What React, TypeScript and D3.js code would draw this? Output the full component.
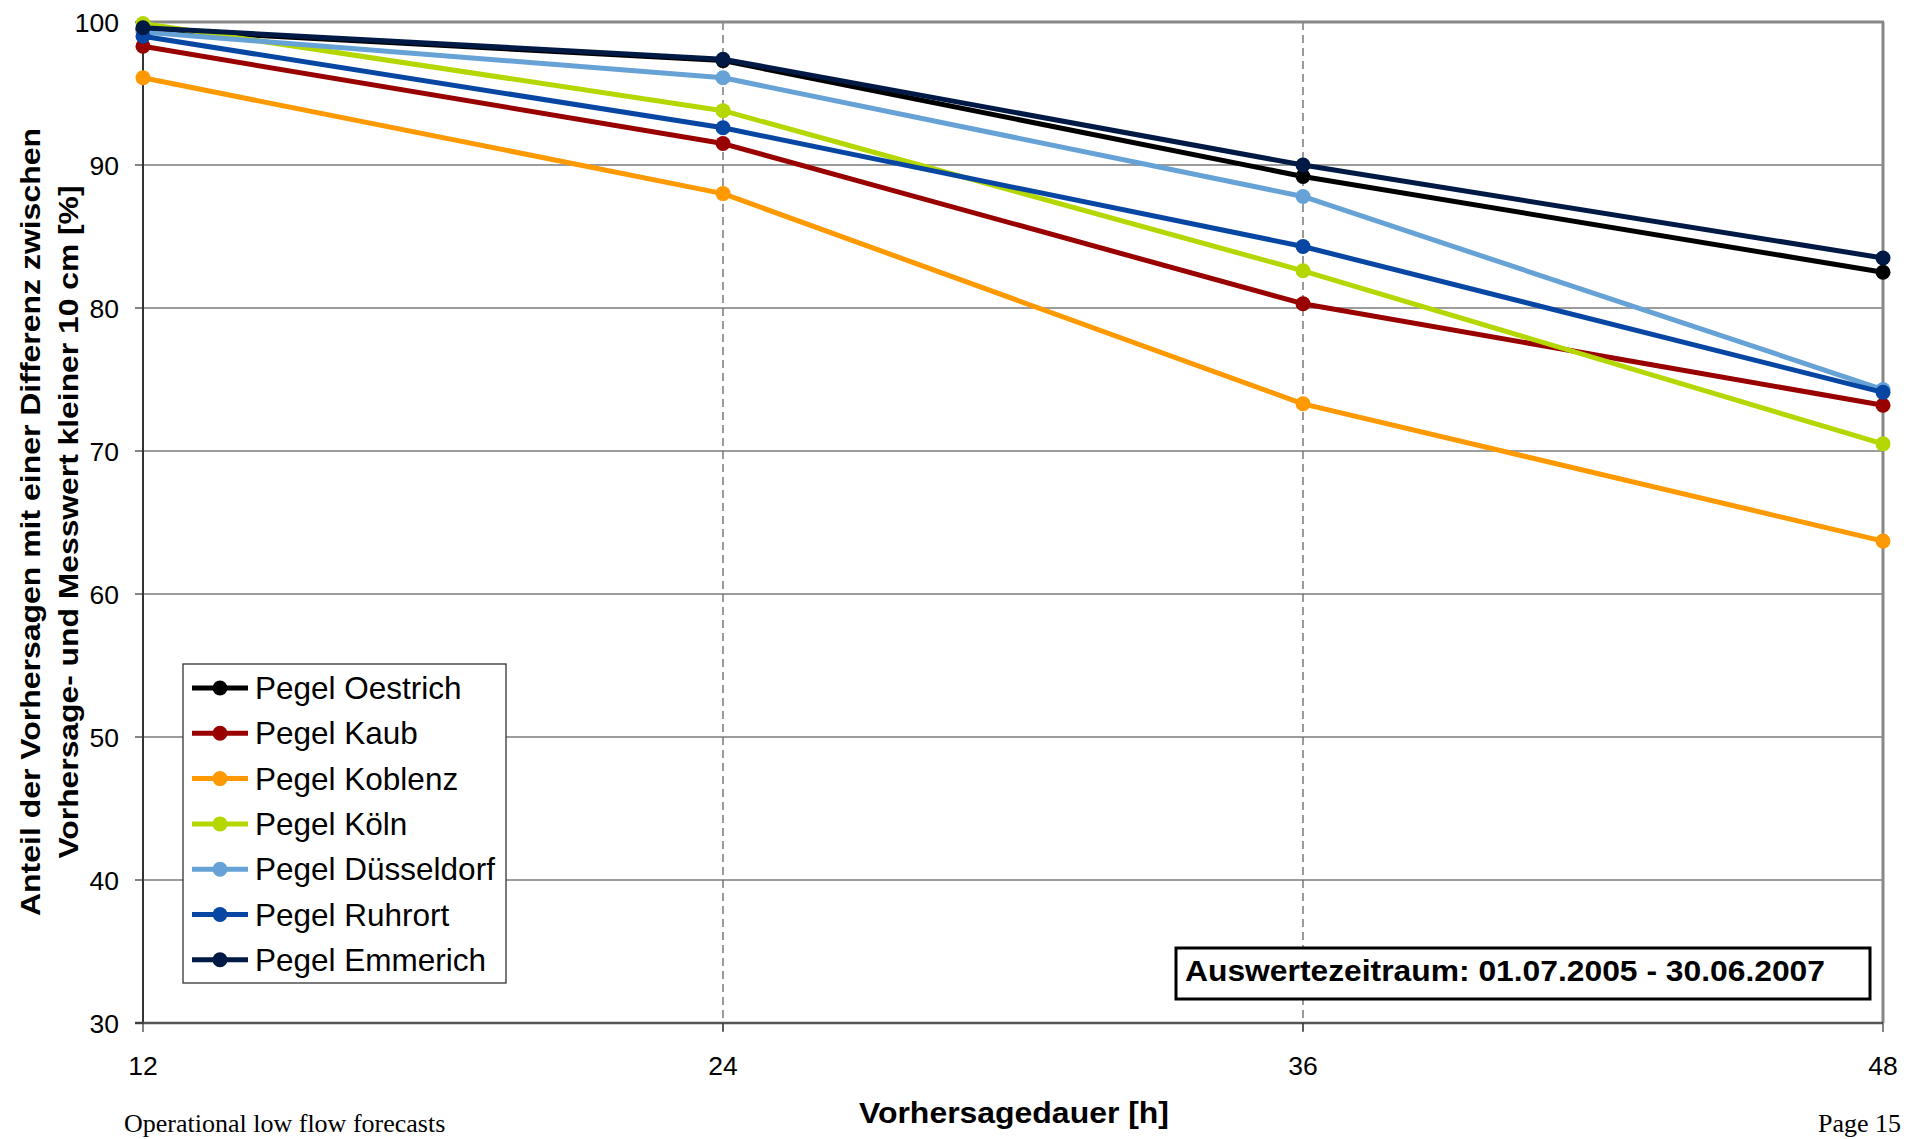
import React from "react";
import * as d3 from "d3";

const hours = [12, 24, 36, 48];
const yTicks = [30, 40, 50, 60, 70, 80, 90, 100];

const seriesNames = [
  "Pegel Oestrich",
  "Pegel Kaub",
  "Pegel Koblenz",
  "Pegel Köln",
  "Pegel Düsseldorf",
  "Pegel Ruhrort",
  "Pegel Emmerich",
];
const seriesColors = ["#000000", "#990000", "#ff9900", "#b4d700", "#66a2d6", "#0747a3", "#001a45"];

const oestrich = [99.5, 97.3, 89.2, 82.5];
const kaub = [98.3, 91.5, 80.3, 73.2];
const koblenz = [96.1, 88.0, 73.3, 63.7];
const koeln = [99.9, 93.8, 82.6, 70.5];
const duesseldorf = [99.3, 96.1, 87.8, 74.3];
const ruhrort = [99.0, 92.6, 84.3, 74.1];
const emmerich = [99.6, 97.4, 90.0, 83.5];

const seriesValues = [oestrich, kaub, koblenz, koeln, duesseldorf, ruhrort, emmerich];

const yTitle1 = "Anteil der Vorhersagen mit einer Differenz zwischen";
const yTitle2 = "Vorhersage- und Messwert kleiner 10 cm [%]";
const xTitle = "Vorhersagedauer [h]";
const note = "Auswertezeitraum: 01.07.2005 - 30.06.2007";
const footerLeft = "Operational low flow forecasts";
const footerRight = "Page 15";

const W = 1917;
const H = 1139;
const L = 143, R = 1883, T = 22, B = 1023;

export default function App() {
  const x = d3.scaleLinear().domain([12, 48]).range([L, R]);
  const y = d3.scaleLinear().domain([30, 100]).range([B, T]);
  const line = d3
    .line<number>()
    .x((_, i) => x(hours[i]))
    .y((d) => y(d));

  const font = "Liberation Sans, Arial, sans-serif";
  const serif = "Liberation Serif, Times New Roman, serif";
  const legendX = 183, legendY = 664, legendW = 323, legendH = 319;
  const rowY0 = 688, rowStep = 45.3;

  return (
    <svg
      width={W}
      height={H}
      style={{ position: "absolute", left: 0, top: 0, background: "#fff" }}
      fontFamily={font}
    >
      <rect x={0} y={0} width={W} height={H} fill="#fff" />
      {/* gridlines */}
      {yTicks.filter((t) => t !== 30 && t !== 100).map((t) => (
        <line key={"g" + t} x1={L} x2={R} y1={y(t)} y2={y(t)} stroke="#3a3a3a" strokeWidth={1.2} />
      ))}
      {/* dashed vertical lines */}
      {hours.filter((h) => h !== 12 && h !== 48).map((h) => (
        <line
          key={"v" + h}
          x1={x(h)}
          x2={x(h)}
          y1={T}
          y2={B + 9}
          stroke="#666"
          strokeWidth={1.3}
          strokeDasharray="8,5"
        />
      ))}
      {/* plot border top & right */}
      <line x1={L} x2={R + 1} y1={T} y2={T} stroke="#888" strokeWidth={3} />
      <line x1={R} x2={R} y1={T} y2={B} stroke="#888" strokeWidth={3} />
      {/* axes */}
      <line x1={L} x2={L} y1={T} y2={B} stroke="#333" strokeWidth={2} />
      <line x1={L - 8} x2={R} y1={B} y2={B} stroke="#555" strokeWidth={2.5} />
      {yTicks.map((t) => (
        <line key={"yt" + t} x1={L - 8} x2={L} y1={y(t)} y2={y(t)} stroke="#333" strokeWidth={1.2} />
      ))}
      {hours.map((h) => (
        <line key={"xt" + h} x1={x(h)} x2={x(h)} y1={B} y2={B + 9} stroke="#333" strokeWidth={1.2} />
      ))}
      {/* y tick labels */}
      {yTicks.map((t) => (
        <text key={"yl" + t} x={119} y={y(t) + 9.5} textAnchor="end" fontSize={26.5} fill="#000">
          {t}
        </text>
      ))}
      {/* x tick labels */}
      {hours.map((h) => (
        <text key={"xl" + h} x={x(h)} y={1075} textAnchor="middle" fontSize={26.5} fill="#000">
          {h}
        </text>
      ))}
      {/* series */}
      {seriesValues.map((vals, si) => (
        <g key={"s" + si}>
          <path d={line(vals) || ""} fill="none" stroke={seriesColors[si]} strokeWidth={5} strokeLinejoin="round" />
          {vals.map((v, i) => (
            <circle key={i} cx={x(hours[i])} cy={y(v)} r={7.5} fill={seriesColors[si]} />
          ))}
        </g>
      ))}
      {/* legend */}
      <rect x={legendX} y={legendY} width={legendW} height={legendH} fill="#fff" stroke="#333" strokeWidth={1.3} />
      {seriesNames.map((n, i) => {
        const cy = rowY0 + i * rowStep;
        return (
          <g key={"lg" + i}>
            <line x1={192} x2={248} y1={cy} y2={cy} stroke={seriesColors[i]} strokeWidth={5} />
            <circle cx={220} cy={cy} r={7.5} fill={seriesColors[i]} />
            <text x={255} y={cy + 11} fontSize={31.5} fill="#000">
              {n}
            </text>
          </g>
        );
      })}
      {/* annotation */}
      <rect x={1176} y={948} width={694} height={51} fill="#fff" stroke="#000" strokeWidth={3} />
      <text
        x={1185}
        y={981}
        fontSize={30}
        fontWeight="bold"
        fill="#000"
        textLength={640}
        lengthAdjust="spacingAndGlyphs"
      >
        {note}
      </text>
      {/* axis titles */}
      <text
        x={1014}
        y={1123}
        textAnchor="middle"
        fontSize={29}
        fontWeight="bold"
        fill="#000"
        textLength={310}
        lengthAdjust="spacingAndGlyphs"
      >
        {xTitle}
      </text>
      <text
        transform={`translate(40,522) rotate(-90)`}
        textAnchor="middle"
        fontSize={28.5}
        fontWeight="bold"
        fill="#000"
        textLength={788}
        lengthAdjust="spacingAndGlyphs"
      >
        {yTitle1}
      </text>
      <text
        transform={`translate(78,522) rotate(-90)`}
        textAnchor="middle"
        fontSize={28.5}
        fontWeight="bold"
        fill="#000"
        textLength={673}
        lengthAdjust="spacingAndGlyphs"
      >
        {yTitle2}
      </text>
      {/* footer */}
      <text x={124} y={1132} fontSize={26} fontFamily={serif} fill="#000">
        {footerLeft}
      </text>
      <text x={1901} y={1132} textAnchor="end" fontSize={26} fontFamily={serif} fill="#000">
        {footerRight}
      </text>
    </svg>
  );
}
